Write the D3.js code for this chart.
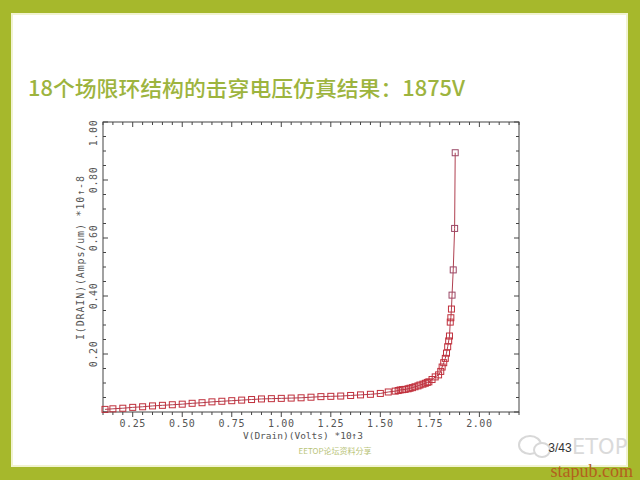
<!DOCTYPE html>
<html>
<head>
<meta charset="utf-8">
<script src="https://cdn.jsdelivr.net/npm/d3@7"></script>
<style>
  body { margin: 0; background: #a6b82c; }
  svg { display: block; }
</style>
</head>
<body>
<script>
// breakdown curve: V(Drain) in units of 1e3 V, I(Drain) in units of 1e-8 A/um
var voltage = [0.11, 0.15, 0.20, 0.25, 0.30, 0.35, 0.40, 0.45, 0.50, 0.55, 0.60, 0.65, 0.70, 0.75,
               0.80, 0.85, 0.90, 0.95, 1.00, 1.05, 1.10, 1.15, 1.20, 1.25, 1.30, 1.35, 1.40, 1.45,
               1.50, 1.54, 1.575, 1.59, 1.60, 1.612, 1.625, 1.64, 1.65, 1.662, 1.675, 1.69, 1.70,
               1.715, 1.727, 1.737, 1.745, 1.761, 1.777, 1.794, 1.805, 1.812, 1.82, 1.828, 1.834,
               1.84, 1.845, 1.849, 1.853, 1.856, 1.859, 1.862, 1.868, 1.875, 1.878];
var current = [0.009, 0.011, 0.013, 0.016, 0.018, 0.021, 0.023, 0.025, 0.027, 0.030, 0.032, 0.035, 0.037, 0.039,
               0.041, 0.043, 0.045, 0.046, 0.047, 0.048, 0.049, 0.051, 0.053, 0.054, 0.055, 0.057, 0.059, 0.061,
               0.064, 0.069, 0.072, 0.074, 0.076, 0.077, 0.078, 0.080, 0.082, 0.084, 0.087, 0.090, 0.093,
               0.096, 0.099, 0.102, 0.104, 0.112, 0.121, 0.128, 0.14, 0.155, 0.17, 0.185, 0.203,
               0.225, 0.245, 0.262, 0.31, 0.325, 0.355, 0.403, 0.49, 0.633, 0.894];

var xTickLabels = ["0.25", "0.50", "0.75", "1.00", "1.25", "1.50", "1.75", "2.00"];
var yTickLabels = ["0.20", "0.40", "0.60", "0.80", "1.00"];

var titleText = "18个场限环结构的击穿电压仿真结果：1875V";
var xTitle = "V(Drain)(Volts) *10↑3";
var yTitle = "I(DRAIN)(Amps/um) *10↑-8";

// plot frame inside the slide
var margin = {top: 122, right: 121, bottom: 68, left: 103},
    width = 640 - margin.left - margin.right,
    height = 480 - margin.top - margin.bottom;

var x = d3.scaleLinear().domain([0.1, 2.2]).range([0, width]);
var y = d3.scaleLinear().domain([0, 1.0]).range([height, 0]);

var svg = d3.select("body").append("svg")
    .attr("width", 640)
    .attr("height", 480);

// white slide area on the olive background
svg.append("rect")
    .attr("x", 12).attr("y", 14)
    .attr("width", 615).attr("height", 452)
    .attr("fill", "#ffffff")
    .attr("stroke", "#f1f3d0")
    .attr("stroke-width", 2);

// slide title
svg.append("text")
    .attr("x", 28)
    .attr("y", 96)
    .attr("fill", "#9db43e")
    .style("font-family", "'Noto Sans CJK SC', sans-serif")
    .style("font-size", "21px")
    .style("font-weight", "500")
    .attr("textLength", 437)
    .attr("lengthAdjust", "spacingAndGlyphs")
    .text(titleText);

var g = svg.append("g")
    .attr("transform", "translate(" + margin.left + "," + margin.top + ")");

// frame
g.append("rect")
    .attr("width", width)
    .attr("height", height)
    .attr("fill", "none")
    .attr("stroke", "#444")
    .attr("stroke-width", 1);

// ticks on all four sides
var xMinor = d3.range(0.1, 2.2001, 0.05);
var yMinor = d3.range(0, 1.0001, 0.05);
function isMajorX(v) { return Math.abs(v * 4 - Math.round(v * 4)) < 1e-6; }
function isMajorY(v) { return Math.abs(v * 5 - Math.round(v * 5)) < 1e-6; }

g.selectAll(".xtb").data(xMinor).enter().append("line")
    .attr("x1", function(d) { return x(d); }).attr("x2", function(d) { return x(d); })
    .attr("y1", height).attr("y2", function(d) { return height + (isMajorX(d) ? 5 : 3); })
    .attr("stroke", "#444");
g.selectAll(".xtt").data(xMinor).enter().append("line")
    .attr("x1", function(d) { return x(d); }).attr("x2", function(d) { return x(d); })
    .attr("y1", 0).attr("y2", function(d) { return isMajorX(d) ? 5 : 3; })
    .attr("stroke", "#444");
g.selectAll(".ytl").data(yMinor).enter().append("line")
    .attr("y1", function(d) { return y(d); }).attr("y2", function(d) { return y(d); })
    .attr("x1", 0).attr("x2", function(d) { return isMajorY(d) ? 5 : 3; })
    .attr("stroke", "#444");
g.selectAll(".ytr").data(yMinor).enter().append("line")
    .attr("y1", function(d) { return y(d); }).attr("y2", function(d) { return y(d); })
    .attr("x1", width).attr("x2", function(d) { return width - (isMajorY(d) ? 5 : 3); })
    .attr("stroke", "#444");

// tick labels
g.selectAll(".xlab").data(xTickLabels).enter().append("text")
    .attr("x", function(d) { return x(+d); })
    .attr("y", height + 15)
    .attr("text-anchor", "middle")
    .attr("fill", "#555")
    .style("font-family", "'DejaVu Sans Mono', monospace")
    .style("font-size", "10px")
    .style("letter-spacing", "0.6px")
    .text(function(d) { return d; });

g.selectAll(".ylab").data(yTickLabels).enter().append("text")
    .attr("transform", function(d) {
        return "translate(-6," + Math.max(y(+d), 11) + ") rotate(-90)";
    })
    .attr("text-anchor", "middle")
    .attr("fill", "#555")
    .style("font-family", "'DejaVu Sans Mono', monospace")
    .style("font-size", "10px")
    .style("letter-spacing", "0.6px")
    .text(function(d) { return d; });

// axis titles
g.append("text")
    .attr("x", 200)
    .attr("y", height + 27)
    .attr("text-anchor", "middle")
    .attr("fill", "#555")
    .style("font-family", "'DejaVu Sans Mono', monospace")
    .style("font-size", "9.5px")
    .text(xTitle);

g.append("text")
    .attr("transform", "translate(-19," + (height / 2 - 9) + ") rotate(-90)")
    .attr("text-anchor", "middle")
    .attr("fill", "#555")
    .style("font-family", "'DejaVu Sans Mono', monospace")
    .style("font-size", "10px")
    .attr("textLength", 164)
    .attr("lengthAdjust", "spacing")
    .text(yTitle);

// curve
var points = voltage.map(function(v, i) { return [v, current[i]]; });

g.append("path")
    .datum(points)
    .attr("fill", "none")
    .attr("stroke", "#b04050")
    .attr("stroke-width", 1)
    .attr("d", d3.line()
        .x(function(d) { return x(d[0]); })
        .y(function(d) { return y(d[1]); }));

g.selectAll(".pt").data(points).enter().append("rect")
    .attr("x", function(d) { return x(d[0]) - 3; })
    .attr("y", function(d) { return y(d[1]) - 3; })
    .attr("width", 6)
    .attr("height", 6)
    .attr("fill", "none")
    .attr("stroke", function(d) { return d[1] > 0.4 ? "#9a4866" : "#c0303c"; })
    .attr("stroke-width", 1);

// slide footer texts
svg.append("text")
    .attr("x", 335).attr("y", 454)
    .attr("text-anchor", "middle")
    .attr("fill", "#b9c478")
    .style("font-family", "'Noto Sans CJK SC', sans-serif")
    .style("font-size", "8px")
    .text("EETOP论坛资料分享");

svg.append("ellipse")
    .attr("cx", 530).attr("cy", 445).attr("rx", 11).attr("ry", 9)
    .attr("fill", "none").attr("stroke", "#d8d8d8").attr("stroke-width", 2);
svg.append("ellipse")
    .attr("cx", 542).attr("cy", 450).attr("rx", 8).attr("ry", 7)
    .attr("fill", "#fff").attr("stroke", "#d8d8d8").attr("stroke-width", 2);

svg.append("text")
    .attr("x", 572).attr("y", 454)
    .attr("text-anchor", "start")
    .attr("fill", "#dadada")
    .style("font-family", "'DejaVu Sans', sans-serif")
    .style("font-size", "21px")
    .text("ETOP");

svg.append("text")
    .attr("x", 560).attr("y", 452)
    .attr("text-anchor", "middle")
    .attr("fill", "#333")
    .style("font-family", "'Liberation Sans', sans-serif")
    .style("font-size", "12px")
    .text("3/43");

svg.append("text")
    .attr("x", 633).attr("y", 477)
    .attr("text-anchor", "end")
    .attr("fill", "#b3601e")
    .style("font-family", "'Liberation Serif', serif")
    .style("font-size", "18px")
    .text("stapub.com");
</script>
</body>
</html>
